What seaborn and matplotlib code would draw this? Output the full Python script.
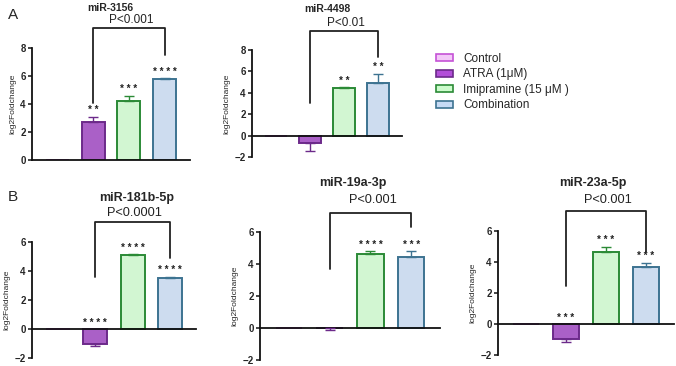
import matplotlib
matplotlib.use("Agg")
import matplotlib.pyplot as plt
import seaborn as sns
from matplotlib.patches import Patch

# groups + colours
groups = ["Control", "ATRA (1μM)", "Imipramine (15 μM )", "Combination"]
fills = ["#f3c8f8", "#b24fd8", "#ccfccc", "#c7dbf5"]
edges = ["#c552d6", "#6c2a8a", "#2b8a36", "#3d7391"]

# log2 fold change (mean, sem)
mir3156 = [0, 2.7, 4.2, 5.8]
mir3156_err = [0, 0.4, 0.4, 0.05]
mir3156_stars = ["", "**", "***", "****"]

mir4498 = [0, -0.65, 4.45, 4.95]
mir4498_err = [0, 0.75, 0.05, 0.85]
mir4498_stars = ["", "", "**", "**"]

mir181b = [0, -1.03, 5.12, 3.52]
mir181b_err = [0, 0.15, 0.05, 0.08]
mir181b_stars = ["", "****", "****", "****"]

mir19a = [0, -0.03, 4.65, 4.45]
mir19a_err = [0, 0.12, 0.15, 0.35]
mir19a_stars = ["", "", "****", "***"]

mir23a = [0, -0.95, 4.65, 3.7]
mir23a_err = [0, 0.18, 0.35, 0.25]
mir23a_stars = ["", "***", "***", "***"]

W, H = 676, 366
sns.set_style("white")
plt.rcParams["font.family"] = ["Liberation Sans", "DejaVu Sans"]

fig = plt.figure(figsize=(W / 100, H / 100), dpi=100)


def panel(box, title, title_xy, vals, errs, stars, ylim, yticks, ptxt, p_y,
          br_top, br_left, br_right, tsize=7.5, psize=8.5):
    l, r, t, b = box
    ax = fig.add_axes([l / W, 1 - b / H, (r - l) / W, (b - t) / H])
    x = list(range(4))
    sns.barplot(x=x, y=vals, hue=x, palette=fills, legend=False, width=0.64,
                linewidth=1.4, ax=ax)
    for i, p in enumerate(ax.patches):
        p.set_edgecolor(edges[i])
    for i in range(1, 4):
        v, e = vals[i], errs[i]
        yerr = [[0], [e]] if v >= 0 else [[e], [0]]
        ax.errorbar(i, v, yerr=yerr, color=edges[i], capsize=3.5, lw=1,
                    capthick=1, zorder=3)
        if stars[i]:
            ys = v + e if v >= 0 else 0
            ax.annotate(" ".join(stars[i]), (i, ys), xytext=(0, 1),
                        textcoords="offset points", ha="center", va="bottom",
                        fontsize=7, fontweight="bold", color="#222222")
    # significance bracket
    ax.plot([1, 1, 3, 3], [br_left, br_top, br_top, br_right], color="#222222",
            lw=1.3, clip_on=False)
    # p text centred over the bracket
    xc = ax.transData.transform((2, 0))[0]
    xc = fig.transFigure.inverted().transform((xc, 0))[0]
    fig.text(xc, 1 - p_y / H, ptxt, ha="center", va="center", fontsize=psize,
             color="#222222")
    fig.text(title_xy[0] / W, 1 - title_xy[1] / H, title, ha="center",
             va="center", fontsize=tsize, fontweight="bold")
    ax.set_xlim(-0.7, 3.7)
    ax.set_ylim(*ylim)
    ax.set_yticks(yticks)
    ax.set_xticks([])
    sns.despine(ax=ax)
    ax.spines["bottom"].set_position(("data", 0))
    for s in ["left", "bottom"]:
        ax.spines[s].set_linewidth(1.3)
        ax.spines[s].set_color("#111111")
    ax.tick_params(axis="y", length=3, width=1.2, pad=1.5, labelsize=7,
                   direction="out", left=True)
    for lab in ax.get_yticklabels():
        lab.set_fontweight("bold")
    ax.set_ylabel("log2Foldchange", fontsize=6, labelpad=3)
    ax.set_xlabel("")
    return ax


panel((32, 190, 48, 160), "miR-3156", (110, 8), mir3156, mir3156_err,
      mir3156_stars, (0, 8), [0, 2, 4, 6, 8], "P<0.001", 20, 9.4, 4.1, 7.5)
panel((252, 402, 50, 157), "miR-4498", (327, 9), mir4498, mir4498_err,
      mir4498_stars, (-2, 8), [-2, 0, 2, 4, 6, 8], "P<0.01", 23, 9.8, 3.05, 7.3)
panel((32, 196, 242, 358), "miR-181b-5p", (137, 198), mir181b, mir181b_err,
      mir181b_stars, (-2, 6), [-2, 0, 2, 4, 6], "P<0.0001", 213, 7.4, 3.6, 4.9,
      tsize=9, psize=9.2)
panel((260, 440, 232, 360), "miR-19a-3p", (353, 183), mir19a, mir19a_err,
      mir19a_stars, (-2, 6), [-2, 0, 2, 4, 6], "P<0.001", 200, 7.2, 3.66, 6.3,
      tsize=9, psize=9.2)
panel((498, 674, 231, 355), "miR-23a-5p", (593, 183), mir23a, mir23a_err,
      mir23a_stars, (-2, 6), [-2, 0, 2, 4, 6], "P<0.001", 200, 7.3, 2.45, 4.65,
      tsize=9, psize=9.2)

fig.text(8 / W, 1 - 15 / H, "A", fontsize=11, va="center")
fig.text(8 / W, 1 - 197 / H, "B", fontsize=11, va="center")

handles = [Patch(facecolor=f, edgecolor=e, linewidth=1.2) for f, e in zip(fills, edges)]
fig.legend(handles, groups, loc="upper left", bbox_to_anchor=(431 / W, 1 - 48 / H),
           frameon=False, fontsize=8.5, handlelength=1.5, handleheight=0.55,
           labelspacing=0.3, handletextpad=0.8, borderaxespad=0)

fig.savefig("out.png", dpi=100, facecolor="white")
